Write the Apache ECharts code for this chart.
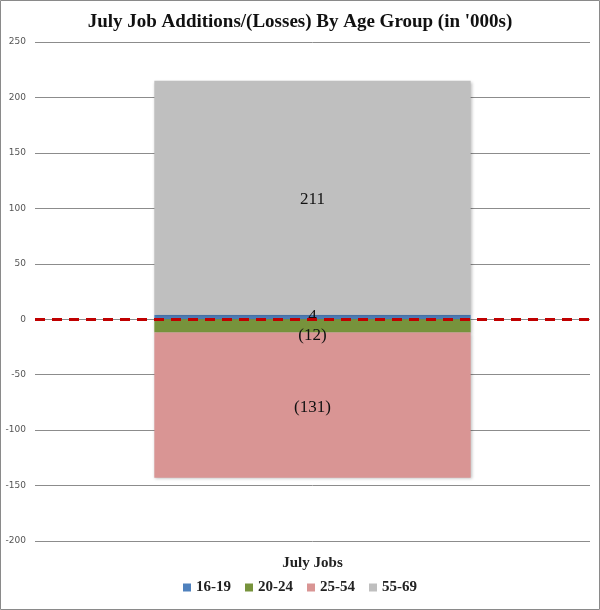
<!DOCTYPE html>
<html><head><meta charset="utf-8">
<script src="https://cdn.jsdelivr.net/npm/echarts@6/dist/echarts.min.js"></script>
<style>html,body{margin:0;padding:0;background:#fff}#c{width:600px;height:610px}</style>
</head><body><div id="c"></div>
<script>
const categories = ['July Jobs'];
const seriesNames = ['16-19', '20-24', '25-54', '55-69'];
const v1619 = [4];
const v2024 = [-12];
const v2554 = [-131];
const v5569 = [211];
const yTicks = { min: -200, max: 250, interval: 50 };
const colors = ['#4f81bd', '#77933c', '#d99594', '#bfbfbf'];

const serif = '"Liberation Serif", "DejaVu Serif", serif';
const fmt = p => p.value < 0 ? '(' + Math.abs(p.value) + ')' : String(p.value);
const values = [v1619, v2024, v2554, v5569];
const labelOffsets = [[0, 0], [0, 10], [0, 2], [0, 2]];

const chart = echarts.init(document.getElementById('c'));
chart.setOption({
  animation: false,
  backgroundColor: '#fff',
  title: {
    text: "July Job Additions/(Losses) By Age Group (in '000s)",
    left: 'center', top: 8,
    textStyle: { fontFamily: serif, fontSize: 19, fontWeight: 'bold', color: '#111' }
  },
  legend: {
    bottom: 10, left: 'center', itemWidth: 8, itemHeight: 8, itemGap: 14,
    icon: 'rect',
    textStyle: { fontFamily: serif, fontSize: 15, fontWeight: 'bold', color: '#222' },
    data: seriesNames
  },
  grid: { left: 35, right: 10, top: 42, bottom: 69 },
  xAxis: {
    type: 'category', data: categories,
    axisLine: { show: false }, axisTick: { show: false },
    axisLabel: { margin: 15, fontFamily: serif, fontSize: 15, fontWeight: 'bold', color: '#222' }
  },
  yAxis: {
    type: 'value', min: yTicks.min, max: yTicks.max, interval: yTicks.interval,
    axisLine: { show: false }, axisTick: { show: false },
    axisLabel: { margin: 9, fontSize: 9, color: '#555', fontFamily: 'DejaVu Sans, sans-serif' },
    splitLine: { lineStyle: { color: '#8c8c8c', width: 1 } }
  },
  graphic: [{
    type: 'rect', shape: { x: 0.5, y: 0.5, width: 599, height: 609 },
    style: { fill: 'none', stroke: '#8a8a8a', lineWidth: 1 }, z: 100
  }],
  series: seriesNames.map((n, i) => ({
    name: n, type: 'bar', stack: 'total', data: values[i],
    barWidth: '57%',
    itemStyle: { color: colors[i], shadowColor: 'rgba(0,0,0,0.25)', shadowBlur: 3, shadowOffsetX: 1, shadowOffsetY: 1 },
    label: {
      show: true, position: 'inside', formatter: fmt, offset: labelOffsets[i],
      fontFamily: serif, fontSize: 17, color: '#111'
    },
    z: 2,
    markLine: i === 0 ? {
      silent: true, symbol: 'none', label: { show: false },
      lineStyle: { color: '#c00000', type: [10, 7], width: 3 },
      data: [{ yAxis: 0 }], z: 5
    } : undefined
  }))
});
</script></body></html>
